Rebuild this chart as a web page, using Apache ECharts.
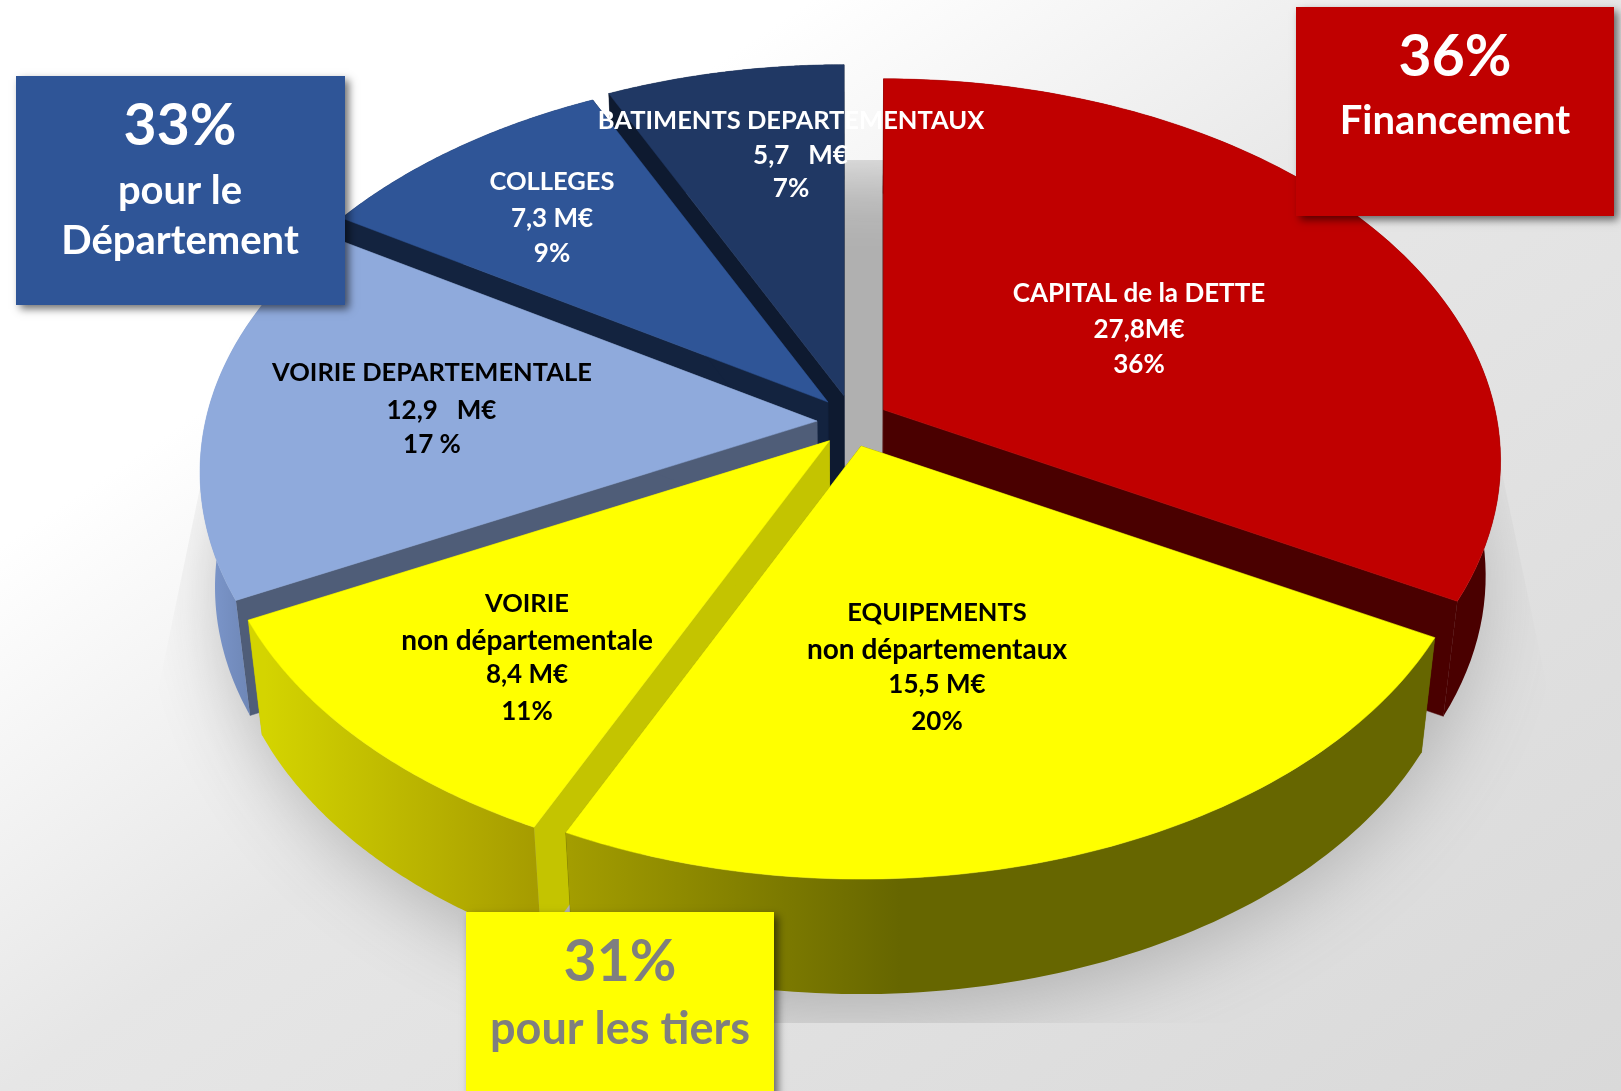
<!DOCTYPE html>
<html><head><meta charset="utf-8">
<style>html,body{margin:0;padding:0;background:#fff}#c{width:1621px;height:1091px}</style>
<script src="https://cdn.jsdelivr.net/npm/echarts@6/dist/echarts.min.js"></script>
</head><body><div id="c"></div>
<script>
// ---- data ----
const sliceNames = ['CAPITAL de la DETTE','EQUIPEMENTS non départementaux','VOIRIE non départementale','VOIRIE DEPARTEMENTALE','COLLEGES','BATIMENTS DEPARTEMENTAUX'];
const sliceValues = [27.8, 15.5, 8.4, 12.9, 7.3, 5.7];
const sliceLabelLines = [
  ['CAPITAL de la DETTE','27,8M€','36%'],
  ['EQUIPEMENTS','non départementaux','15,5 M€','20%'],
  ['VOIRIE','non départementale','8,4 M€','11%'],
  ['VOIRIE DEPARTEMENTALE','   12,9   M€','17 %'],
  ['COLLEGES','7,3 M€','9%'],
  ['BATIMENTS DEPARTEMENTAUX','   5,7   M€','7%']
];
const groupShares = ['36%','33%','31%'];
const groupNames = [['Financement'],['pour le','Département'],['pour les tiers']];

// ---- styles and view ----
const topColors  = ['#c00000','#ffff00','#ffff00','#8faadc','#2f5597','#203864'];
const faceColors = ['#4a0000','#666600','#c4c400','#4f5d78','#13233f','#0e1a30'];
const rimStops = [
  [[0,'#4a0000'],[1,'#4a0000']],
  [[0,'#a39d00'],[1,'#666600']],
  [[0,'#d4d400'],[1,'#a69c00']],
  [[0,'#7f9ad0'],[1,'#6a82b0']],
  [[0,'#13233f'],[1,'#13233f']],
  [[0,'#0e1a30'],[1,'#0e1a30']]
];
const rimGradX = [[0,1621],[570,900],[265,534],[200,262],[0,1621],[0,1621]];
const paintOrder = [5,4,3,0,2,1];
const labelFill = ['#fff','#000','#000','#000','#fff','#fff'];
const labelX = [1139,937,527,432,552,791];
const labelY = [[294,330,365],[613,650,685,722],[604,641,675,712],[373,411,445],[182,219,254],[121,156,189]];
const VIEW = {cx:852, cyRim:472, cyApex:421, a:617, b:382, ex:35, ey:26, depth:115, bottomScale:0.977, cRight:0.661, cLeft:0.87, stretch:1.03};
const FONT = 'Lato, "Open Sans", sans-serif';

const total = sliceValues.reduce((s,v)=>s+v,0);
const starts = []; sliceValues.reduce((s,v,i)=>(starts[i]=s, s+v),0);
function viewAngle(theta, c){ // perspective foreshortening of the plane angle
  const h = theta/2;
  return 2*Math.atan2(c*Math.sin(h), Math.cos(h));
}
function projected(t){
  return t<=Math.PI ? VIEW.stretch*viewAngle(t,VIEW.cRight)
                    : 2*Math.PI-(2-VIEW.stretch)*viewAngle(2*Math.PI-t,VIEW.cLeft);
}
function slicePolys(i){
  const t0 = starts[i]/total*2*Math.PI, t1 = (starts[i]+sliceValues[i])/total*2*Math.PI;
  const mid = (t0+t1)/2;
  const ox = VIEW.ex*Math.sin(mid), oy = -VIEW.ey*Math.cos(mid);
  const rim = [];
  const N = 90;
  for(let k=0;k<=N;k++){
    const p = projected(t0+(t1-t0)*k/N);
    rim.push([VIEW.cx+VIEW.a*Math.sin(p)+ox, VIEW.cyRim-VIEW.b*Math.cos(p)+oy]);
  }
  const apex = [VIEW.cx+ox, VIEW.cyApex+oy];
  const low = q=>[VIEW.cx+(q[0]-VIEW.cx)*VIEW.bottomScale, q[1]+VIEW.depth];
  return {apex, rim, lowApex:low(apex), lowRim:rim.map(low)};
}
function renderSlice(params, api){
  const i = api.value(0);
  const s = slicePolys(i);
  const g = rimGradX[i];
  const poly = (points, fill)=>({type:'polygon', shape:{points}, style:{fill, stroke:typeof fill==='string'?fill:null, lineWidth:typeof fill==='string'?0.5:0}});
  const rimFill = new echarts.graphic.LinearGradient(g[0],0,g[1],0,rimStops[i].map(r=>({offset:r[0],color:r[1]})),true);
  const first = s.rim[0], last = s.rim[s.rim.length-1];
  const lf = s.lowRim[0], ll = s.lowRim[s.lowRim.length-1];
  return {type:'group', children:[
    poly([s.apex, first, lf, s.lowApex], faceColors[i]),
    poly([s.apex, last, ll, s.lowApex], faceColors[i]),
    poly(s.rim.concat(s.lowRim.slice().reverse()), rimFill),
    poly([s.apex].concat(s.rim), topColors[i])
  ]};
}
function renderShadow(params, api){
  const away = 4000; // only the soft shadow of this ellipse is seen
  return {type:'ellipse',
    shape:{cx:VIEW.cx-away, cy:590, rx:625, ry:425},
    style:{fill:'#b0b0b0', shadowBlur:80, shadowOffsetX:away, shadowColor:'#b0b0b0'},
    clipPath:{type:'polygon', shape:{points:[[268,160],[1436,160],[1618,1023],[89,1023]]}},
    silent:true};
}
// ---- text -----
const graphics = [];
const lineSize = t => /^non/.test(t) ? 28 : (/^[A-Zla ]+$/.test(t) ? 25.5 : 26);
sliceLabelLines.forEach((lines,i)=>lines.forEach((t,k)=>graphics.push({
  type:'text', z:20, silent:true,
  style:{text:t, x:labelX[i], y:labelY[i][k], fill:labelFill[i], font:'bold '+lineSize(t)+'px '+FONT, textAlign:'center', textVerticalAlign:'middle'}
})));
const boxes = [
 {x:1296,y:7,w:318,h:209,fill:'#c00000',text:'#fff',cx:1455,py:58,ny:[121],ns:40},
 {x:16,y:76,w:329,h:229,fill:'#2f5597',text:'#fff',cx:180,py:127,ny:[191,241],ns:40},
 {x:466,y:912,w:308,h:200,fill:'#ffff00',text:'#7f7f7f',cx:620,py:963,ny:[1029],ns:45}
];
boxes.forEach((b,i)=>{
  graphics.push({type:'rect',z:10,silent:true,shape:{x:b.x,y:b.y,width:b.w,height:b.h},
    style:{fill:b.fill,shadowBlur:8,shadowOffsetX:4,shadowOffsetY:4,shadowColor:'rgba(0,0,0,0.55)'}});
  graphics.push({type:'text',z:20,silent:true,style:{text:groupShares[i],x:b.cx,y:b.py,fill:b.text,font:'bold 57px '+FONT,textAlign:'center',textVerticalAlign:'middle'}});
  groupNames[i].forEach((t,k)=>graphics.push({type:'text',z:20,silent:true,style:{text:t,x:b.cx,y:b.ny[k],fill:b.text,font:'bold '+b.ns+'px '+FONT,textAlign:'center',textVerticalAlign:'middle'}}));
});
const chart = echarts.init(document.getElementById('c'),null,{renderer:'canvas'});
chart.setOption({
  animation:false,
  backgroundColor:{type:'linear',x:0,y:0,x2:0.624,y2:1.377,colorStops:[{offset:0,color:'#ffffff'},{offset:0.25,color:'#ffffff'},{offset:0.5,color:'#e6e6e6'},{offset:1,color:'#d9d9d9'}]},
  graphic:graphics,
  series:[
    {type:'custom',coordinateSystem:'none',z:1,silent:true,renderItem:renderShadow,data:[[0]]},
    {type:'custom',coordinateSystem:'none',z:2,silent:true,renderItem:renderSlice,
     encode:{value:0},data:paintOrder.map(i=>({name:sliceNames[i],value:[i,sliceValues[i]]}))}
  ]
});
</script></body></html>
